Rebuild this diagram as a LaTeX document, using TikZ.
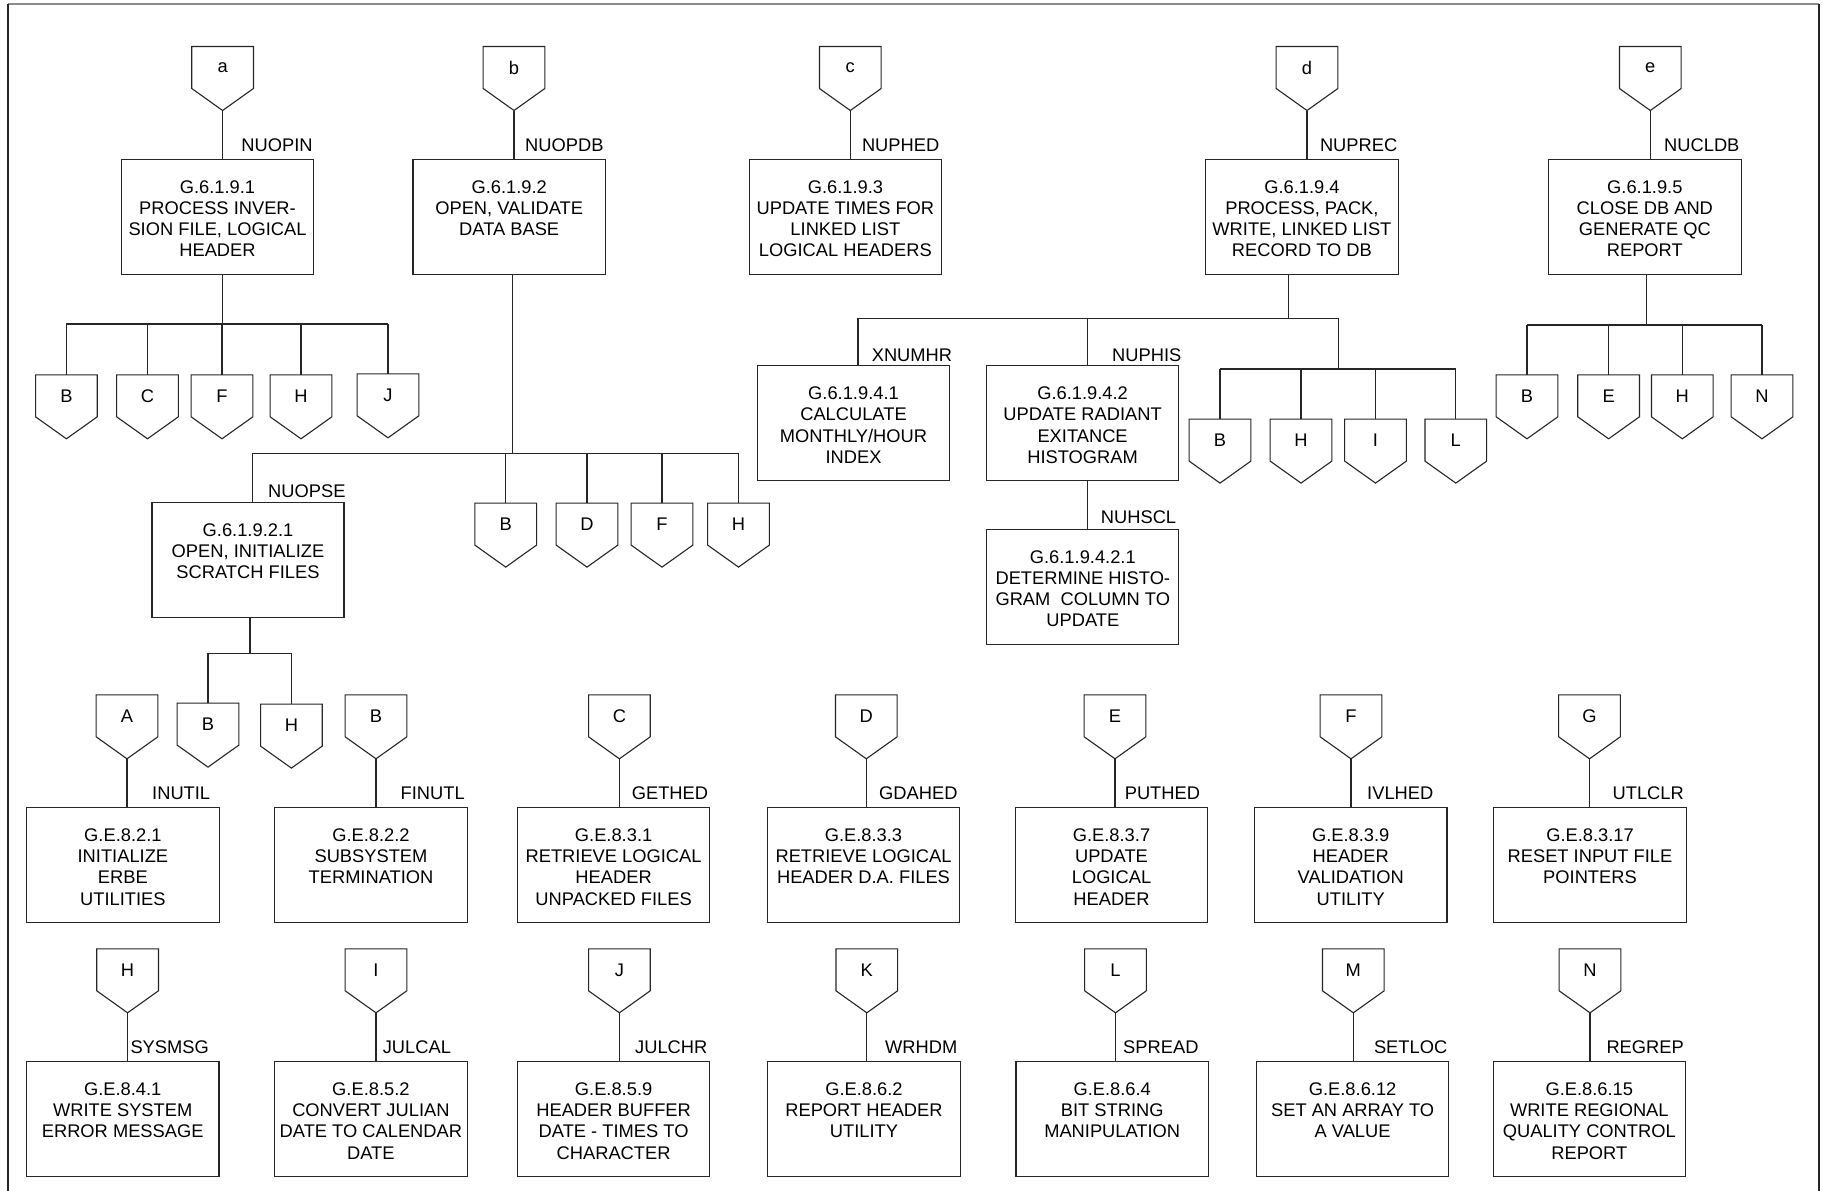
\documentclass[tikz,border=0pt]{standalone}
\usepackage{fontspec}
\setmainfont{Liberation Sans}
\usetikzlibrary{calc}

\newcommand\chartfont{\fontsize{18.3}{21.2}\selectfont}

% pentagon connector symbol: name, centre x, top y, letter
\newcommand\flowpent[4]{%
  \node[pentnode] (#1) at (#2,#3+20.8) {#4};
  \draw[conn] (#1.south west) -- (#1.north west) -- (#1.north east) -- (#1.south east)
    -- ([yshift=-22pt]#1.south) coordinate (#1-tip) -- cycle;}

% module box with top-aligned text: name, centre x, top y, width, text
\newcommand\flowbox[5]{%
  \node[boxnode, minimum width=#4pt] (#1) at (#2,#3+57.5) {};
  \node[boxtext] (#1-t) at ([yshift=-21.5pt]#1.north) {#5};}

% pentagon + box + link + routine name
\newcommand\flowunit[9]{%
  \flowpent{#1p}{#2}{#3}{#4}
  \flowbox{#1b}{#5}{#6}{192.5}{#9}
  \draw[conn] (#1p-tip) -- (#1p-tip |- #1b.north);
  \node[lbl] (#1l) at (#7,#6-7.8) {#8};}

\begin{document}
\begin{tikzpicture}[x=1pt,y=-1pt,
  conn/.style={line width=1.1pt, draw=black!85},
  boxnode/.style={draw=black!85, line width=1.1pt, rectangle, minimum height=115pt, inner sep=0pt},
  boxtext/.style={anchor=north, align=center, inner sep=0pt, font=\chartfont},
  pentnode/.style={rectangle, minimum width=61.3pt, minimum height=41.6pt, inner sep=0pt, font=\chartfont},
  lbl/.style={anchor=base west, inner sep=0pt, font=\chartfont}]

\fill[white] (0,0) rectangle (1823,1191);
\useasboundingbox (0,0) rectangle (1823,1191);

% frame
\draw[line width=1.2pt, draw=black!45] (8,4) -- (1819,4);
\draw[line width=1.2pt, draw=black!85] (8,1192) -- (8,4);
\draw[line width=1.2pt, draw=black!85] (1819,4) -- (1819,1192);

% ---------------- top level modules ----------------
\flowunit{ta}{222.6}{46.7}{a}{217.5}{159.3}{241.2}{NUOPIN}{G.6.1.9.1\\PROCESS INVER-\\SION FILE, LOGICAL\\HEADER}
\flowunit{tb}{514}{46.7}{b}{509.2}{159.3}{525}{NUOPDB}{G.6.1.9.2\\OPEN, VALIDATE\\DATA BASE}
\flowunit{tc}{850.3}{46.7}{c}{845.4}{159.3}{861.8}{NUPHED}{G.6.1.9.3\\UPDATE TIMES FOR\\LINKED LIST\\LOGICAL HEADERS}
\flowunit{td}{1307}{46.7}{d}{1301.9}{159.3}{1319.8}{NUPREC}{G.6.1.9.4\\PROCESS, PACK,\\WRITE, LINKED LIST\\RECORD TO DB}
\flowunit{te}{1650.3}{46.7}{e}{1644.8}{159.3}{1664}{NUCLDB}{G.6.1.9.5\\CLOSE DB AND\\GENERATE QC\\REPORT}

% ---------------- G.6.1.9.1 calls ----------------
\flowpent{a1}{66.4}{375}{B}
\flowpent{a2}{147.5}{375}{C}
\flowpent{a3}{222}{375}{F}
\flowpent{a4}{301}{375}{H}
\flowpent{a5}{388}{374}{J}
\coordinate (busA) at (222.6,324);
\draw[conn] (busA |- tab.south) -- (busA);
\draw[conn] (a1.north |- busA) -- (a5.north |- busA);
\foreach \n in {a1,a2,a3,a4,a5} \draw[conn] (\n.north) -- (\n.north |- busA);

% ---------------- G.6.1.9.2 calls ----------------
\flowbox{g21}{248}{502.3}{192}{G.6.1.9.2.1\\OPEN, INITIALIZE\\SCRATCH FILES}
\node[lbl] (lNUOPSE) at (268,497.3) {NUOPSE};
\flowpent{b1}{505.7}{503.3}{B}
\flowpent{b2}{587}{503.3}{D}
\flowpent{b3}{662}{503.3}{F}
\flowpent{b4}{738.5}{503.3}{H}
\coordinate (busB) at (512.5,453.3);
\coordinate (dropSE) at (252.6,453.3);
\draw[conn] (busB |- tbb.south) -- (busB);
\draw[conn] (dropSE) -- (b4.north |- busB);
\draw[conn] (dropSE) -- (dropSE |- g21.north);
\foreach \n in {b1,b2,b3,b4} \draw[conn] (\n.north) -- (\n.north |- busB);

% G.6.1.9.2.1 calls
\flowpent{c1}{208}{703.3}{B}
\flowpent{c2}{291.4}{704.3}{H}
\coordinate (busC) at (250,653.3);
\draw[conn] (busC |- g21.south) -- (busC);
\draw[conn] (c1.north |- busC) -- (c2.north |- busC);
\foreach \n in {c1,c2} \draw[conn] (\n.north) -- (\n.north |- busC);

% ---------------- G.6.1.9.4 calls ----------------
\flowbox{g41}{853.5}{365.7}{192}{G.6.1.9.4.1\\CALCULATE\\MONTHLY/HOUR\\INDEX}
\flowbox{g42}{1082.6}{365.7}{192}{G.6.1.9.4.2\\UPDATE RADIANT\\EXITANCE\\HISTOGRAM}
\flowbox{g421}{1082.8}{529.3}{192}{G.6.1.9.4.2.1\\DETERMINE HISTO-\\GRAM\ \ COLUMN TO\\UPDATE}
\node[lbl] (lXNUMHR) at (871.6,361.7) {XNUMHR};
\node[lbl] (lNUPHIS) at (1112,361.7) {NUPHIS};
\node[lbl] (lNUHSCL) at (1100.7,523.3) {NUHSCL};
\coordinate (busD) at (1288.7,318.3);
\coordinate (dropXN) at (858,318.3);
\coordinate (dropPH) at (1087.5,318.3);
\coordinate (busD2) at (1338.4,318.3);
\coordinate (busE) at (1338.4,369);
\draw[conn] (busD |- tdb.south) -- (busD);
\draw[conn] (dropXN) -- (busD2);
\draw[conn] (dropXN) -- (dropXN |- g41.north);
\draw[conn] (dropPH) -- (dropPH |- g42.north);
\draw[conn] (dropPH |- g42.south) -- (dropPH |- g421.north);
\draw[conn] (busD2) -- (busE);
\flowpent{d1}{1220}{419.3}{B}
\flowpent{d2}{1301}{419.3}{H}
\flowpent{d3}{1375.5}{419.3}{I}
\flowpent{d4}{1455.8}{419.3}{L}
\draw[conn] (d1.north |- busE) -- (d4.north |- busE);
\foreach \n in {d1,d2,d3,d4} \draw[conn] (\n.north) -- (\n.north |- busE);

% ---------------- G.6.1.9.5 calls ----------------
\flowpent{e1}{1527}{375}{B}
\flowpent{e2}{1608.6}{375}{E}
\flowpent{e3}{1682.3}{375}{H}
\flowpent{e4}{1762}{375}{N}
\coordinate (busF) at (1646.5,325);
\draw[conn] (busF |- teb.south) -- (busF);
\draw[conn] (e1.north |- busF) -- (e4.north |- busF);
\foreach \n in {e1,e2,e3,e4} \draw[conn] (\n.north) -- (\n.north |- busF);

% ---------------- utility routines, first row ----------------
\flowunit{ra}{127}{695}{A}{122.9}{807.5}{152}{INUTIL}{G.E.8.2.1\\INITIALIZE\\ERBE\\UTILITIES}
\flowunit{rb}{376}{695}{B}{371}{807.5}{400.5}{FINUTL}{G.E.8.2.2\\SUBSYSTEM\\TERMINATION}
\flowunit{rc}{619.4}{695}{C}{613.6}{807.5}{631.6}{GETHED}{G.E.8.3.1\\RETRIEVE LOGICAL\\HEADER\\UNPACKED FILES}
\flowunit{rd}{866.3}{695}{D}{863.5}{807.5}{879}{GDAHED}{G.E.8.3.3\\RETRIEVE LOGICAL\\HEADER D.A. FILES}
\flowunit{re}{1115}{695}{E}{1111.5}{807.5}{1124.6}{PUTHED}{G.E.8.3.7\\UPDATE\\LOGICAL\\HEADER}
\flowunit{rf}{1351}{695}{F}{1350.7}{807.5}{1367}{IVLHED}{G.E.8.3.9\\HEADER\\VALIDATION\\UTILITY}
\flowunit{rg}{1589.5}{695}{G}{1590}{807.5}{1612.4}{UTLCLR}{G.E.8.3.17\\RESET INPUT FILE\\POINTERS}

% ---------------- utility routines, second row ----------------
\flowunit{rh}{127.6}{949}{H}{122.7}{1061.5}{130.3}{SYSMSG}{G.E.8.4.1\\WRITE SYSTEM\\ERROR MESSAGE}
\flowunit{ri}{376}{949}{I}{370.9}{1061.5}{382.6}{JULCAL}{G.E.8.5.2\\CONVERT JULIAN\\DATE TO CALENDAR\\DATE}
\flowunit{rj}{619.4}{949}{J}{613.6}{1061.5}{635}{JULCHR}{G.E.8.5.9\\HEADER BUFFER\\DATE - TIMES TO\\CHARACTER}
\flowunit{rk}{866.8}{949}{K}{864}{1061.5}{885}{WRHDM}{G.E.8.6.2\\REPORT HEADER\\UTILITY}
\flowunit{rl}{1115.5}{949}{L}{1112.2}{1061.5}{1123}{SPREAD}{G.E.8.6.4\\BIT STRING\\MANIPULATION}
\flowunit{rm}{1353.3}{949}{M}{1352.6}{1061.5}{1373.8}{SETLOC}{G.E.8.6.12\\SET AN ARRAY TO\\A VALUE}
\flowunit{rn}{1590}{949}{N}{1589.3}{1061.5}{1606.3}{REGREP}{G.E.8.6.15\\WRITE REGIONAL\\QUALITY CONTROL\\REPORT}

\end{tikzpicture}
\end{document}
